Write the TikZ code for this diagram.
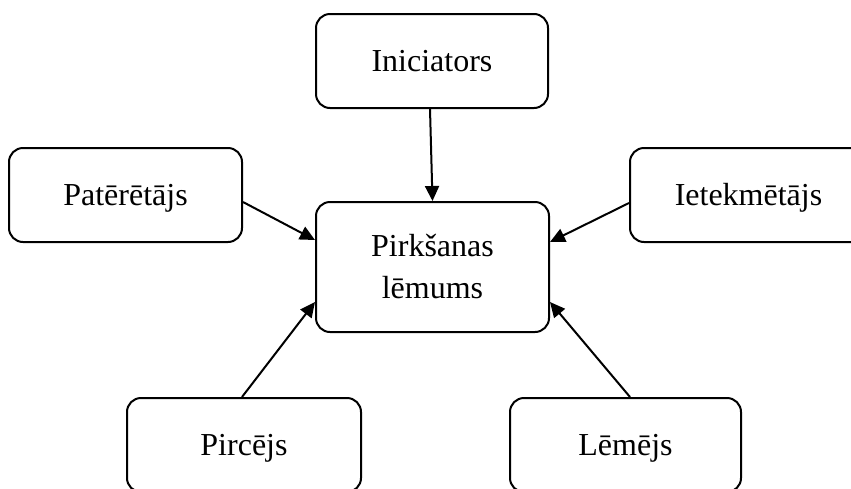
\documentclass[tikz,border=0pt]{standalone}
\usepackage{fontspec}
\setmainfont{Liberation Serif}
\usetikzlibrary{arrows.meta,calc}
\begin{document}
\begin{tikzpicture}[x=1pt,y=-1pt,
  box/.style={draw,line width=2pt,rounded corners=14pt,inner sep=0pt,
    font=\fontsize{32}{42}\selectfont,align=center},
  single/.style={text height=21pt,text depth=0pt},
  conn/.style={line width=2pt,-{Triangle[length=15pt,width=14pt]}}]
\useasboundingbox (0,0) rectangle (851,488);
\node[box,single,minimum width=232pt,minimum height=94pt] (ini) at (432,61) {Iniciators};
\node[box,single,minimum width=233pt,minimum height=94pt] (pat) at (125.5,195) {Patērētājs};
\node[box,single,minimum width=237pt,minimum height=94pt] (iet) at (748.5,195) {Ietekmētājs};
\node[box,minimum width=233pt,minimum height=130pt] (pl) at (432.5,267) {Pirkšanas\\lēmums};
\node[box,single,minimum width=234pt,minimum height=94pt] (pir) at (244,445) {Pircējs};
\node[box,single,minimum width=231pt,minimum height=94pt] (lem) at (625.5,445) {Lēmējs};
\draw[conn] ($(ini.south)+(-2,0)$) -- (pl.north);
\draw[conn] ($(pat.east)+(0,7)$) -- ($(pl.west)+(0,-27)$);
\draw[conn] ($(iet.west)+(0,8)$) -- ($(pl.east)+(0,-25)$);
\draw[conn] ($(pir.north)+(-2,0)$) -- ($(pl.west)+(0,35)$);
\draw[conn] ($(lem.north)+(4.5,0)$) -- ($(pl.east)+(0,35)$);
\end{tikzpicture}
\end{document}
